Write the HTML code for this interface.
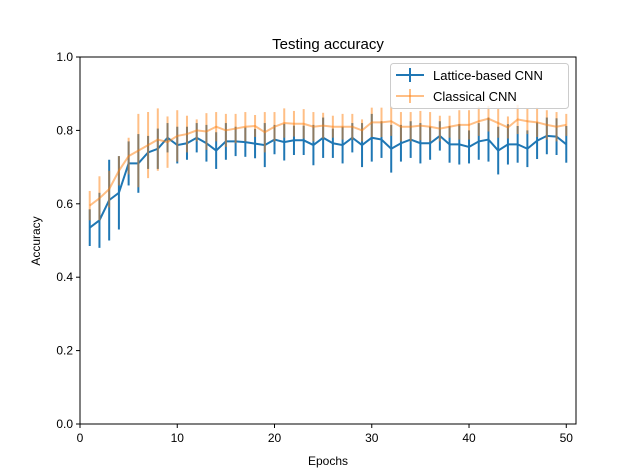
<!DOCTYPE html>
<html><head><meta charset="utf-8"><style>
html,body{margin:0;padding:0;background:#fff}
svg{display:block;font-family:"Liberation Sans","DejaVu Sans",sans-serif}
</style></head><body>
<svg id="chart" width="640" height="476" viewBox="0 0 640 476">
<rect width="640" height="476" fill="#fff"/>
<text x="328" y="49" font-size="15" text-anchor="middle">Testing accuracy</text>
<g id="marks"></g>
<g id="axes"></g>
<text x="328" y="465" font-size="12" text-anchor="middle">Epochs</text>
<text transform="translate(40,241) rotate(-90)" font-size="12" text-anchor="middle">Accuracy</text>
<g>
<rect x="390.5" y="63.5" width="178" height="45" rx="3" fill="#fff" fill-opacity="0.8" stroke="#ccc"/>
<g>
<line x1="396" y1="75" x2="424" y2="75" stroke="#1f77b4" stroke-width="2"/>
<line x1="410" y1="68" x2="410" y2="82" stroke="#1f77b4" stroke-width="2"/>
<text x="433" y="80" font-size="13">Lattice-based CNN</text></g>
<g>
<line x1="396" y1="96" x2="424" y2="96" stroke="#ff7f0e" stroke-opacity="0.5" stroke-width="2"/>
<line x1="410" y1="89" x2="410" y2="103" stroke="#ff7f0e" stroke-opacity="0.5" stroke-width="2"/>
<text x="433" y="101" font-size="13">Classical CNN</text></g>
</g>
</svg>
<script>
const epochs=[];for(let i=1;i<=50;i++)epochs.push(i);
const latticeMean=[0.535,0.555,0.61,0.63,0.71,0.71,0.74,0.75,0.78,0.76,0.765,0.78,0.765,0.745,0.77,0.77,0.768,0.764,0.76,0.775,0.768,0.773,0.773,0.76,0.78,0.765,0.76,0.78,0.76,0.78,0.775,0.75,0.765,0.775,0.765,0.765,0.785,0.762,0.762,0.755,0.77,0.775,0.745,0.762,0.762,0.75,0.772,0.785,0.783,0.762];
const latticeErr=[0.05,0.075,0.11,0.1,0.06,0.08,0.045,0.055,0.04,0.05,0.045,0.04,0.05,0.05,0.05,0.04,0.04,0.04,0.06,0.04,0.05,0.04,0.04,0.055,0.055,0.04,0.05,0.04,0.06,0.065,0.05,0.065,0.05,0.05,0.055,0.045,0.04,0.05,0.055,0.045,0.05,0.06,0.065,0.055,0.05,0.05,0.05,0.05,0.05,0.05];
const classicalMean=[0.595,0.615,0.64,0.69,0.73,0.745,0.76,0.775,0.768,0.785,0.79,0.8,0.797,0.81,0.8,0.805,0.81,0.812,0.795,0.81,0.82,0.818,0.818,0.81,0.813,0.81,0.81,0.81,0.8,0.822,0.822,0.825,0.81,0.81,0.813,0.81,0.805,0.81,0.815,0.815,0.825,0.832,0.82,0.808,0.83,0.825,0.822,0.815,0.81,0.815];
const classicalErr=[0.04,0.06,0.05,0.04,0.05,0.1,0.09,0.085,0.07,0.07,0.05,0.03,0.05,0.04,0.045,0.04,0.04,0.03,0.055,0.04,0.04,0.035,0.04,0.04,0.035,0.03,0.035,0.035,0.03,0.04,0.04,0.04,0.04,0.04,0.04,0.04,0.035,0.03,0.04,0.04,0.04,0.035,0.04,0.03,0.04,0.035,0.04,0.04,0.04,0.03];
const xTicks=[0,10,20,30,40,50];
const yTicks=[0.0,0.2,0.4,0.6,0.8,1.0];
const L=80,R=576,T=57,B=424;
const sx=v=>L+(v-0)/(51-0)*(R-L);
const sy=v=>B-(v-0)/(1-0)*(B-T);
const NS="http://www.w3.org/2000/svg";
const marks=document.getElementById('marks'),axes=document.getElementById('axes');
function mk(tag,attrs,parent){const e=document.createElementNS(NS,tag);for(const k in attrs)e.setAttribute(k,attrs[k]);parent.appendChild(e);return e;}
function series(mean,err,color,op,name){
  const g=mk('g',{},marks);
  
  
  epochs.forEach((x,i)=>{
    const l=mk('line',{x1:sx(x),x2:sx(x),y1:sy(mean[i]-err[i]),y2:sy(mean[i]+err[i]),stroke:color,'stroke-opacity':op,'stroke-width':2},g);
    
    
  });
  const p=mk('polyline',{points:epochs.map((x,i)=>sx(x)+','+sy(mean[i])).join(' '),fill:'none',stroke:color,'stroke-opacity':op,'stroke-width':2},g);
  
  
}
series(latticeMean,latticeErr,'#1f77b4',1,'lattice-series');
series(classicalMean,classicalErr,'#ff7f0e',0.5,'classical-series');
const frame=mk('rect',{x:L,y:T,width:R-L,height:B-T,fill:'none',stroke:'#000','stroke-width':1},axes);


xTicks.forEach(v=>{
  mk('line',{x1:sx(v),x2:sx(v),y1:B,y2:B+4,stroke:'#000'},axes);
  const t=mk('text',{x:sx(v),y:B+18,'font-size':12,'text-anchor':'middle'},axes);t.textContent=v;
  
  
});
yTicks.forEach(v=>{
  mk('line',{x1:L-4,x2:L,y1:sy(v),y2:sy(v),stroke:'#000'},axes);
  const t=mk('text',{x:L-7,y:sy(v)+4,'font-size':12,'text-anchor':'end'},axes);t.textContent=v.toFixed(1);
  
  
});
</script>
</body></html>
